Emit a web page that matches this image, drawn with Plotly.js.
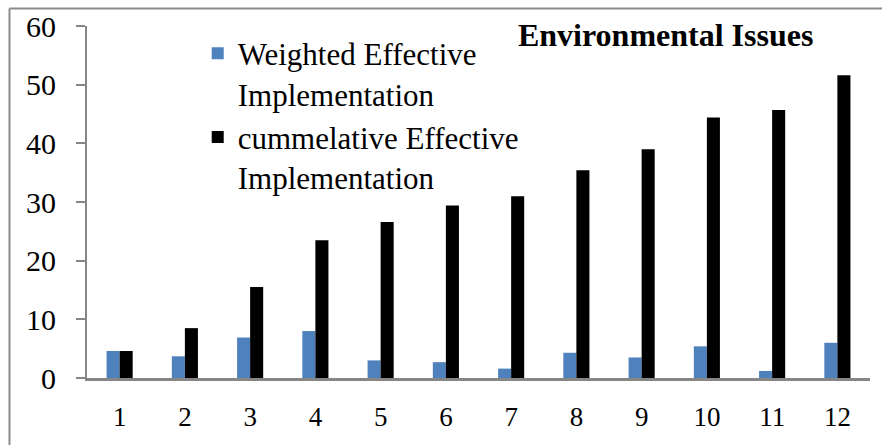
<!DOCTYPE html>
<html>
<head>
<meta charset="utf-8">
<script src="https://cdn.plot.ly/plotly-3.0.1.min.js"></script>
<style>
  html, body { margin: 0; padding: 0; background: #ffffff; }
  #chart { width: 882px; height: 445px; }
</style>
</head>
<body>
<div id="chart"></div>
<script>
// Environmental issues: weighted vs cumulative effective implementation
const categories = ['1', '2', '3', '4', '5', '6', '7', '8', '9', '10', '11', '12'];
const weighted = [4.6, 3.7, 6.9, 8.0, 3.0, 2.7, 1.6, 4.3, 3.5, 5.4, 1.2, 6.0];
const cumulative = [4.6, 8.5, 15.5, 23.5, 26.6, 29.4, 31.0, 35.4, 39.0, 44.4, 45.7, 51.6];
const seriesNames = ['Weighted Effective<br>Implementation', 'cummelative Effective<br>Implementation'];
const yTicks = [0, 10, 20, 30, 40, 50, 60];

const serif = '"Liberation Serif", "Times New Roman", serif';
const axisGray = '#868686';

const traces = [
  {
    type: 'bar', name: seriesNames[0], x: categories, y: weighted,
    marker: { color: '#4F81BD' }, hoverinfo: 'x+y'
  },
  {
    type: 'bar', name: seriesNames[1], x: categories, y: cumulative,
    marker: { color: '#000000' }, hoverinfo: 'x+y'
  }
];

const layout = {
  width: 882, height: 445,
  margin: { l: 87, r: 12, t: 26, b: 67 },
  paper_bgcolor: '#ffffff', plot_bgcolor: '#ffffff',
  barmode: 'group', bargap: 0.6, bargroupgap: 0,
  title: {
    text: '<b>Environmental Issues</b>',
    font: { family: serif, size: 32, color: '#000000' },
    xref: 'paper', x: 0.5504, xanchor: 'left',
    yref: 'container', y: 0.921, yanchor: 'middle'
  },
  xaxis: {
    type: 'category', range: [-0.5, 11.5],
    showline: true, linecolor: axisGray, linewidth: 3,
    ticks: '', showgrid: false, zeroline: false,
    tickfont: { family: serif, size: 27, color: '#000000' },
    ticklabelstandoff: 13
  },
  yaxis: {
    range: [0, 60], tickvals: yTicks, ticktext: yTicks.map(String),
    showline: true, linecolor: axisGray, linewidth: 2,
    ticks: 'outside', ticklen: 9, tickwidth: 2, tickcolor: axisGray,
    showgrid: false, zeroline: false,
    tickfont: { family: serif, size: 30, color: '#000000' },
    ticklabelstandoff: 14
  },
  showlegend: true,
  legend: {
    x: 0.1414, xanchor: 'left', y: 0.998, yanchor: 'top',
    bgcolor: 'rgba(0,0,0,0)', borderwidth: 0,
    valign: 'top', tracegroupgap: 0,
    font: { family: serif, size: 31, color: '#000000' }
  },
  shapes: [
    // outer chart frame (left and top edges)
    { type: 'line', xref: 'paper', yref: 'paper', x0: -0.099, x1: -0.099, y0: 1.0497, y1: -0.3,
      line: { color: '#8c8c8c', width: 2 } },
    { type: 'line', xref: 'paper', yref: 'paper', x0: -0.099, x1: 1.2, y0: 1.0497, y1: 1.0497,
      line: { color: '#8c8c8c', width: 2 } }
  ]
};

Plotly.newPlot('chart', traces, layout, { displayModeBar: false, staticPlot: true });
</script>
</body>
</html>
